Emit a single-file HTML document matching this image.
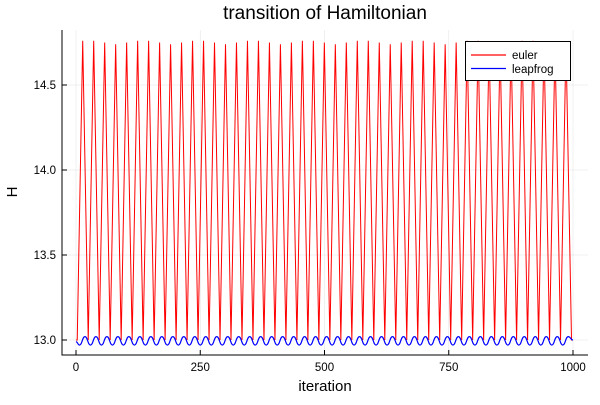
<!DOCTYPE html>
<html><head><meta charset="utf-8"><style>
body{margin:0;background:#fff}
svg text{font-family:"Liberation Sans",sans-serif;fill:#000}
</style></head><body>
<svg id="chart" width="600" height="400" viewBox="0 0 600 400"></svg>
<script>
const xTicks=[0,250,500,750,1000];
const yTicks=[13.0,13.5,14.0,14.5];
const yTickLabels=["13.0","13.5","14.0","14.5"];
const eulerPeakIter=[13.5,35.6,57.7,79.8,101.9,124,146.1,168.2,190.3,212.4,234.5,256.6,278.7,300.8,322.9,345,367.1,389.2,411.3,433.4,455.5,477.6,499.7,521.8,543.9,566,588.1,610.2,632.3,654.4,676.5,698.6,720.7,742.8,764.9,787,809.1,831.2,853.3,875.4,897.5,919.6,941.7,963.8,985.9];
const eulerPeakVal=[14.76,14.76,14.75,14.74,14.75,14.76,14.76,14.75,14.74,14.75,14.76,14.76,14.75,14.74,14.75,14.76,14.76,14.75,14.74,14.75,14.76,14.76,14.75,14.74,14.75,14.76,14.76,14.75,14.74,14.75,14.76,14.76,14.75,14.74,14.75,14.76,14.76,14.75,14.74,14.75,14.76,14.76,14.75,14.74,14.75];
const eulerTroughIter=[0,2.5,24.6,46.7,68.8,90.9,113,135.1,157.2,179.3,201.4,223.5,245.6,267.7,289.8,311.9,334,356.1,378.2,400.3,422.4,444.5,466.6,488.7,510.8,532.9,555,577.1,599.2,621.3,643.4,665.5,687.6,709.7,731.8,753.9,776,798.1,820.2,842.3,864.4,886.5,908.6,930.7,952.8,974.9,997,1000];
const eulerTroughVal=13.0;
const leapPeakIter=[18,40.1,62.2,84.3,106.4,128.5,150.6,172.7,194.8,216.9,239,261.1,283.2,305.3,327.4,349.5,371.6,393.7,415.8,437.9,460,482.1,504.2,526.3,548.4,570.5,592.6,614.7,636.8,658.9,681,703.1,725.2,747.3,769.4,791.5,813.6,835.7,857.8,879.9,902,924.1,946.2,968.3,990.4];
const leapTroughIter=[7,29.1,51.2,73.3,95.4,117.5,139.6,161.7,183.8,205.9,228,250.1,272.2,294.3,316.4,338.5,360.6,382.7,404.8,426.9,449,471.1,493.2,515.3,537.4,559.5,581.6,603.7,625.8,647.9,670,692.1,714.2,736.3,758.4,780.5,802.6,824.7,846.8,868.9,891,913.1,935.2,957.3,979.4];
const leapPeakVal=13.02, leapTroughVal=12.97;

const NS="http://www.w3.org/2000/svg";
const svg=document.getElementById('chart');
const X=v=>76+(v/1000)*497;
const Y=v=>340-(v-13.0)*170;
function mk(tag,attrs,parent){const e=document.createElementNS(NS,tag);for(const k in attrs)e.setAttribute(k,attrs[k]);(parent||svg).appendChild(e);return e;}

xTicks.forEach(t=>{const g=mk('line',{x1:X(t),x2:X(t),y1:30,y2:355,stroke:'#000','stroke-opacity':0.1,'stroke-width':0.6});

});
yTicks.forEach(t=>{const g=mk('line',{x1:62,x2:588,y1:Y(t),y2:Y(t),stroke:'#000','stroke-opacity':0.1,'stroke-width':0.6});

});

function merge(pi,pv,ti,tv){const pts=[];pi.forEach((t,i)=>pts.push([t,Array.isArray(pv)?pv[i]:pv]));ti.forEach(t=>pts.push([t,tv]));pts.sort((a,b)=>a[0]-b[0]);return pts;}
const ePts=merge(eulerPeakIter,eulerPeakVal,eulerTroughIter,eulerTroughVal);
const eLine=mk('polyline',{points:ePts.map(p=>X(p[0]).toFixed(2)+','+Y(p[1]).toFixed(2)).join(' '),fill:'none',stroke:'#ff0000','stroke-width':1});



const lPts=merge(leapPeakIter,leapPeakVal,leapTroughIter,leapTroughVal);
lPts.unshift([0,12.99]);lPts.push([1000,13.0]);
let d='M'+X(lPts[0][0])+','+Y(lPts[0][1]);
for(let i=1;i<lPts.length;i++){const a=lPts[i-1],b=lPts[i];const mx=(X(a[0])+X(b[0]))/2;d+=` C${mx},${Y(a[1])} ${mx},${Y(b[1])} ${X(b[0])},${Y(b[1])}`;}
const lLine=mk('path',{d:d,fill:'none',stroke:'#0000ff','stroke-width':1.2});



const ax=mk('path',{d:'M62,30 L62,355 L588,355',fill:'none',stroke:'#000','stroke-width':1});


xTicks.forEach(t=>{mk('line',{x1:X(t),x2:X(t),y1:355,y2:350,stroke:'#000'});
const tx=mk('text',{x:X(t),y:371,'text-anchor':'middle','font-size':11.5});tx.textContent=t;

});
yTicks.forEach((t,i)=>{mk('line',{x1:62,x2:67,y1:Y(t),y2:Y(t),stroke:'#000'});
const tx=mk('text',{x:56,y:Y(t)+4,'text-anchor':'end','font-size':11.5});tx.textContent=yTickLabels[i];

});
</script>
<svg width="600" height="400" style="position:absolute;left:0;top:0">
<text x="325" y="19" text-anchor="middle" font-size="19">transition of Hamiltonian</text>
<text x="325" y="391" text-anchor="middle" font-size="15">iteration</text>
<text x="17" y="192" text-anchor="middle" font-size="15" transform="rotate(-90 17 192)">H</text>
<g>
<rect x="465.5" y="41.5" width="105" height="39" fill="#fff" stroke="#000" stroke-width="1"/>
<line x1="471" x2="506" y1="55" y2="55" stroke="#ff0000" stroke-width="1.2"/>
<text x="512" y="59" font-size="11.5">euler</text>
<line x1="471" x2="506" y1="68.5" y2="68.5" stroke="#0000ff" stroke-width="1.2"/>
<text x="512" y="73" font-size="11.5">leapfrog</text>
</g>
</svg>
</body></html>
